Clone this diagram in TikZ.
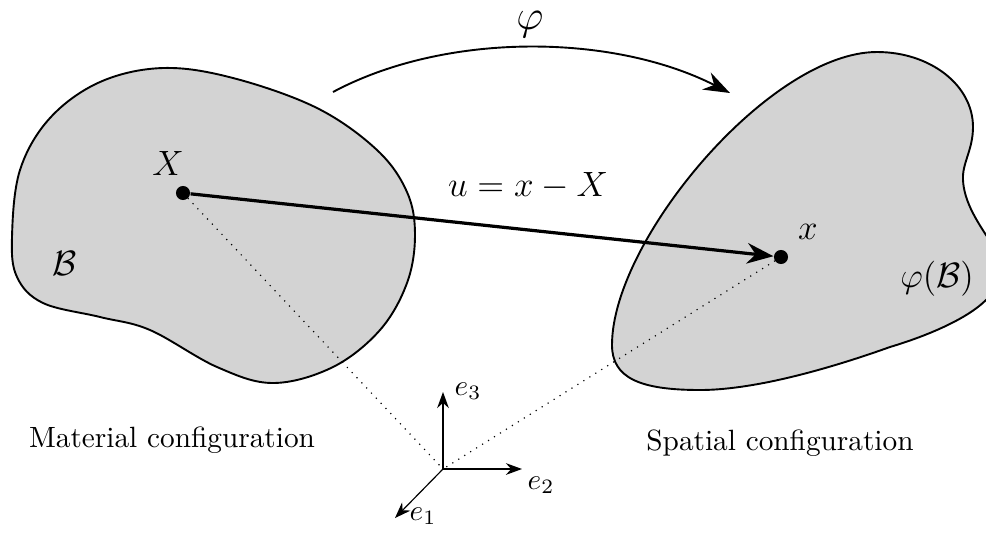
\documentclass[tikz,border=0pt]{standalone}
\usetikzlibrary{arrows.meta}
\definecolor{blobgray}{RGB}{211,211,211}
\begin{document}
\begin{tikzpicture}[x=0.012cm,y=-0.012cm,
  blob/.style={fill=blobgray,draw=black,line width=0.65pt},
  pt/.style={circle,fill=black,inner sep=0pt,minimum size=4.8pt},
  lbl/.style={font=\large},
  axis/.style={thin,-{Stealth[length=5.5pt,width=4pt]}},
  guide/.style={thin,dotted}]
\useasboundingbox (0,0) rectangle (986,533);
\clip (0,0) rectangle (986,533);
% left body
\draw[blob] plot[smooth cycle,tension=0.6] coordinates {
 (163,68) (233,78) (317,108) (377,150) (407,192) (415,235) (407,283)
 (380,330) (333,367) (273,383) (217,367) (150,330) (100,317) (43,303)
 (17,277) (12,237) (20,170) (50,118) (100,82)};
% right body
\draw[blob] (877,52) .. controls (930,52) and (973,85) .. (973,127)
  .. controls (973,150) and (962,163) .. (963,180)
  .. controls (964,200) and (975,218) .. (986,235)
  .. controls (1005,262) and (1005,285) .. (986,300)
  .. controls (968,318) and (930,335) .. (890,347)
  .. controls (820,372) and (750,390) .. (700,390)
  .. controls (640,390) and (612,378) .. (612,345)
  .. controls (612,240) and (770,52) .. (877,52) -- cycle;
% points
\node[pt] (Xp) at (183,193) {};
\node[pt] (xp) at (781,257) {};
\coordinate (O) at (443,469);
% dotted guides
\draw[guide] (Xp.center) -- (O);
\draw[guide] (xp.center) -- (O);
% displacement
\draw[line width=1.1pt,-{Stealth[length=9pt,width=7pt]}] (Xp) -- (xp);
% mapping arc
\coordinate (a1) at (333,92);
\coordinate (a2) at (730,93);
\draw[line width=0.65pt,-{Stealth[length=9pt,width=6.5pt]}] (a1) .. controls (445,32) and (612,33) .. (a2);
% axes
\coordinate (E3) at (443,392);
\coordinate (E2) at (522,469);
\coordinate (E1) at (395,518);
\draw[axis] (O) -- (E3);
\draw[axis] (O) -- (E2);
\draw[axis] (O) -- (E1);
% labels
\node[lbl] (lX) at (168,163) {$X$};
\node[lbl] (lx) at (808,232) {$x$};
\node[lbl] (lB) at (65,263) {$\mathcal{B}$};
\node[lbl] (lpB) at (937,279) {$\varphi(\mathcal{B})$};
\node[lbl] (lu) at (528,186) {$u=x-X$};
\node[font=\Large,anchor=base,inner sep=0pt] (lphi) at (530,29) {$\varphi$};
\node (le3) at (468,391) {$e_3$};
\node (le2) at (541,485) {$e_2$};
\node (le1) at (423,516) {$e_1$};
\node (lmat) at (172,440) {Material configuration};
\node (lspa) at (780,443) {Spatial configuration};
\end{tikzpicture}
\end{document}
